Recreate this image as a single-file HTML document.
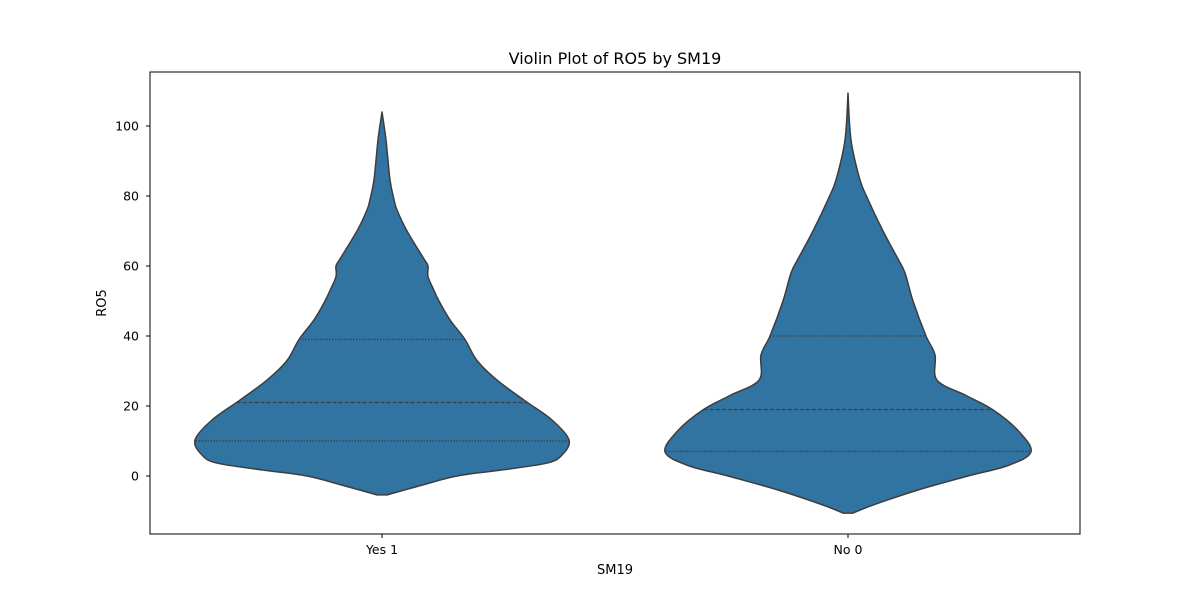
<!DOCTYPE html>
<html><head><meta charset="utf-8"><style>
body{margin:0;background:#fff;font-family:"Liberation Sans","DejaVu Sans",sans-serif}
text{font-family:"DejaVu Sans","Liberation Sans",sans-serif;fill:#000}
</style></head><body>
<svg width="1200" height="600" viewBox="0 0 1200 600">
<g id="violins"></g>
<rect x="150" y="72" width="930" height="462" fill="none" stroke="#000" stroke-width="1"/>
<g id="axes"></g>
<text x="615" y="64" font-size="16" text-anchor="middle">Violin Plot of RO5 by SM19</text>
<text x="615" y="574" font-size="13" text-anchor="middle">SM19</text>
<text x="106" y="303" font-size="13" text-anchor="middle" transform="rotate(-90 106 303)">RO5</text>
</svg>
<script>
const categories=["Yes 1","No 0"];
const yTicks=[0,20,40,60,80,100];
const yesVals=[104,96,84.6,79,76,70,62,60,57,53,50,44.6,39,33,27.4,21.7,16,10.3,6,3.7,1.7,0,-2.6,-5.4];
const yesHW=[0,4,8,12,15,25,42,46,46,52,57,68,83,95,115,142,170,187,180,165,119,75,40,5];
const noVals=[109.4,96,84.6,79,70,62,58,50,40,34.6,27.4,23,18.9,13,6.9,3,0,-4,-8.3,-10.6];
const noHW=[0,3,12,20,35,50,57,65,78,87,89,118,145,170,183,160,120,70,25,5];
const yesQ=[10,21,39];
const noQ=[7,19,40];
const NS="http://www.w3.org/2000/svg";
const yS=v=>476-v*3.5;
const xC=i=>382+i*466;
function el(t,a,p){const e=document.createElementNS(NS,t);for(const k in a)e.setAttribute(k,a[k]);p.appendChild(e);return e;}
function hwAt(vals,hw,v){for(let i=0;i<vals.length-1;i++){if(v<=vals[i]&&v>=vals[i+1]){const t=(vals[i]-v)/(vals[i]-vals[i+1]);return hw[i]+t*(hw[i+1]-hw[i]);}}return 0;}
function spline(pts){let d=`M${pts[0][0]},${pts[0][1]}`;for(let i=0;i<pts.length-1;i++){const p0=pts[i-1]||pts[i],p1=pts[i],p2=pts[i+1],p3=pts[i+2]||p2;const c1=[p1[0]+(p2[0]-p0[0])/6,p1[1]+(p2[1]-p0[1])/6],c2=[p2[0]-(p3[0]-p1[0])/6,p2[1]-(p3[1]-p1[1])/6];d+=`C${c1[0]},${c1[1]} ${c2[0]},${c2[1]} ${p2[0]},${p2[1]}`;}return d;}
const vg=document.getElementById('violins');
[[yesVals,yesHW,yesQ],[noVals,noHW,noQ]].forEach(([vals,hw,q],i)=>{
  const cx=xC(i);
  const right=vals.map((v,j)=>[cx+hw[j],yS(v)]);
  const left=vals.map((v,j)=>[cx-hw[j],yS(v)]).reverse();
  let d=spline(right);
  d+="L"+left[0][0]+","+left[0][1]+spline(left).replace(/^M[^C]*/,"")+"Z";
  const p=el('path',{d:d,fill:'#3274a1',stroke:'#3d3d3d','stroke-width':1.5,'stroke-linejoin':'round'},vg);
  
  
  q.forEach((v,k)=>{const w=hwAt(vals,hw,v);
    const l=el('line',{x1:cx-w,x2:cx+w,y1:yS(v),y2:yS(v),stroke:'#3d3d3d','stroke-width':1.3,'stroke-dasharray':k==1?'4,2':'1.5,1.5'},vg);
    
    });
});
const ag=document.getElementById('axes');
yTicks.forEach(t=>{const y=yS(t);
  const l=el('line',{x1:146,x2:150,y1:y,y2:y,stroke:'#000'},ag);
  
  const tx=el('text',{x:139,y:y+4.5,'font-size':12.5,'text-anchor':'end'},ag);tx.textContent=t;
  });
categories.forEach((c,i)=>{const x=xC(i);
  const l=el('line',{x1:x,x2:x,y1:534,y2:538,stroke:'#000'},ag);
  
  const tx=el('text',{x:x,y:554,'font-size':12.5,'text-anchor':'middle'},ag);tx.textContent=c;
  });
</script>
</body></html>
